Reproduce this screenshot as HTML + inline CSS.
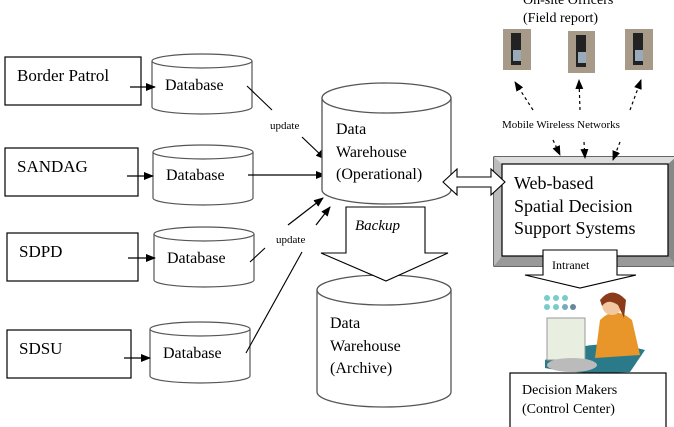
<!DOCTYPE html>
<html><head><meta charset="utf-8"><style>
html,body{margin:0;padding:0;background:#fff;width:674px;height:427px;overflow:hidden}
text{font-family:"Liberation Serif",serif;fill:#000}
</style></head><body>
<svg width="674" height="427" viewBox="0 0 674 427" xmlns="http://www.w3.org/2000/svg">
<defs>
<marker id="ah" markerWidth="10" markerHeight="8" refX="9" refY="4" orient="auto" markerUnits="userSpaceOnUse"><path d="M0,0 L10,4 L0,8 z" fill="#000"/></marker>
</defs>
<g fill="#fff" stroke="#000" stroke-width="1.2">
<rect x="5" y="57" width="136" height="48"/>
<rect x="5" y="148" width="133" height="48"/>
<rect x="7" y="233" width="131" height="48"/>
<rect x="7" y="330" width="124" height="48"/>
</g>
<g font-size="17">
<text x="17" y="81">Border Patrol</text>
<text x="17" y="172">SANDAG</text>
<text x="19" y="257">SDPD</text>
<text x="19" y="354">SDSU</text>
</g>
<g fill="#fff" stroke="#555" stroke-width="1.2">
<path d="M152,61 V107 A50,7 0 0 0 252,107 V61"/><ellipse cx="202" cy="61" rx="50" ry="7"/>
<path d="M153,152 V198 A50,7 0 0 0 253,198 V152"/><ellipse cx="203" cy="152" rx="50" ry="7"/>
<path d="M154,234 V280 A50,7 0 0 0 254,280 V234"/><ellipse cx="204" cy="234" rx="50" ry="7"/>
<path d="M150,329 V376 A50,7 0 0 0 250,376 V329"/><ellipse cx="200" cy="329" rx="50" ry="7"/>
</g>
<g font-size="16">
<text x="165" y="90">Database</text>
<text x="166" y="180">Database</text>
<text x="167" y="263">Database</text>
<text x="163" y="358">Database</text>
</g>
<g stroke="#000" stroke-width="1.2" fill="none" marker-end="url(#ah)">
<line x1="130" y1="87" x2="155" y2="87"/>
<line x1="127" y1="176" x2="153" y2="176"/>
<line x1="128" y1="258" x2="155" y2="258"/>
<line x1="124" y1="358" x2="150" y2="358"/>
<line x1="248" y1="175" x2="325" y2="175"/>
<line x1="302" y1="137" x2="325" y2="159"/>
<line x1="288" y1="225" x2="323" y2="198"/>
<line x1="316" y1="225" x2="330" y2="207"/>
</g>
<g stroke="#000" stroke-width="1.1">
<line x1="247" y1="86" x2="272" y2="110"/>
<line x1="250" y1="262" x2="265" y2="248"/>
<line x1="246" y1="353" x2="302" y2="252"/>
</g>
<g font-size="11">
<text x="270" y="129">update</text>
<text x="276" y="243">update</text>
</g>
<g fill="#fff" stroke="#555" stroke-width="1.3">
<path d="M322,98 V190 A64.5,14 0 0 0 451,190 V98"/><ellipse cx="386.5" cy="98" rx="64.5" ry="15"/>
</g>
<g font-size="16"><text x="336" y="134">Data</text><text x="336" y="157">Warehouse</text><text x="336" y="179">(Operational)</text></g>
<g fill="#fff" stroke="#555" stroke-width="1.3">
<path d="M317,290 V392 A67,15 0 0 0 451,392 V290"/><ellipse cx="384" cy="290" rx="67" ry="15"/>
</g>
<g font-size="16"><text x="330" y="328">Data</text><text x="330" y="351">Warehouse</text><text x="330" y="373">(Archive)</text></g>
<path d="M346,207 H425 V253 H448 L386,281 L321,253 H346 Z" fill="#fff" stroke="#000" stroke-width="1.1"/>
<text x="355" y="230" font-size="15" font-style="italic">Backup</text>
<!-- web box -->
<rect x="494" y="157" width="182" height="109" fill="#fff" stroke="#000" stroke-width="1.2"/>
<path d="M494,157 H676 L668,164 H502 Z" fill="#ddd"/>
<path d="M494,157 L502,164 V256 L494,266 Z" fill="#bbb"/>
<path d="M668,164 L676,157 V266 L668,256 Z" fill="#888"/>
<path d="M494,266 L502,256 H668 L676,266 Z" fill="#999"/>
<rect x="502" y="164" width="166" height="92" fill="#fff" stroke="#000" stroke-width="1.2"/>
<g font-size="18"><text x="514" y="189">Web-based</text><text x="514" y="212">Spatial Decision</text><text x="514" y="234">Support Systems</text></g>
<!-- double arrow over frame -->
<path d="M443,182 L457,169 V177 H491 V169 L505,182 L491,195 V187 H457 V195 Z" fill="#fff" stroke="#000" stroke-width="1.1"/>
<path d="M543,250 H617 V275 H636 L580,288 L525,275 H543 Z" fill="#fff" stroke="#000" stroke-width="1.1"/>
<text x="552" y="269" font-size="12">Intranet</text>
<g>
<rect x="503" y="29" width="28" height="41" fill="#a89a88"/><rect x="511" y="33" width="10" height="32" fill="#222"/><rect x="513" y="50" width="8" height="11" fill="#9ab"/>
<rect x="568" y="31" width="27" height="42" fill="#a89a88"/><rect x="576" y="35" width="10" height="32" fill="#222"/><rect x="578" y="52" width="8" height="11" fill="#9ab"/>
<rect x="625" y="29" width="28" height="41" fill="#a89a88"/><rect x="633" y="33" width="10" height="32" fill="#222"/><rect x="635" y="50" width="8" height="11" fill="#9ab"/>
</g>
<text x="523" y="4" font-size="14">On-site Officers</text>
<text x="523" y="22" font-size="14">(Field report)</text>
<text x="502" y="128" font-size="11">Mobile Wireless Networks</text>
<g stroke="#000" stroke-width="1.2" stroke-dasharray="3,3" fill="none" marker-end="url(#ah)">
<line x1="533" y1="110" x2="515" y2="82"/>
<line x1="580" y1="110" x2="579" y2="80"/>
<line x1="630" y1="110" x2="641" y2="80"/>
<line x1="553" y1="140" x2="560" y2="155"/>
<line x1="584" y1="142" x2="585" y2="158"/>
<line x1="620" y1="142" x2="613" y2="160"/>
</g>
<g>
<circle cx="547" cy="298" r="3" fill="#7cc"/><circle cx="556" cy="298" r="3" fill="#7cc"/><circle cx="565" cy="298" r="3" fill="#7cc"/>
<circle cx="547" cy="307" r="3" fill="#7cc"/><circle cx="556" cy="307" r="3" fill="#7cc"/><circle cx="565" cy="307" r="3" fill="#7ab"/><circle cx="573" cy="307" r="3" fill="#689"/>
<path d="M545,360 Q590,335 645,350 L630,372 Q580,375 545,368 Z" fill="#2a7a8a"/>
<rect x="547" y="318" width="38" height="42" fill="#e8eee0" stroke="#999"/>
<path d="M600,320 Q615,305 632,320 L640,355 L595,358 Z" fill="#e8962a"/>
<circle cx="612" cy="305" r="10" fill="#f2c8a0"/>
<path d="M600,300 Q612,285 626,300 L624,318 L618,305 Q608,298 602,306 Z" fill="#8b3a1a"/>
<ellipse cx="572" cy="365" rx="25" ry="7" fill="#bbb"/>
</g>
<rect x="510" y="373" width="156" height="60" fill="#fff" stroke="#000" stroke-width="1.2"/>
<g font-size="14"><text x="522" y="394">Decision Makers</text><text x="522" y="413">(Control Center)</text></g>
</svg>
</body></html>
